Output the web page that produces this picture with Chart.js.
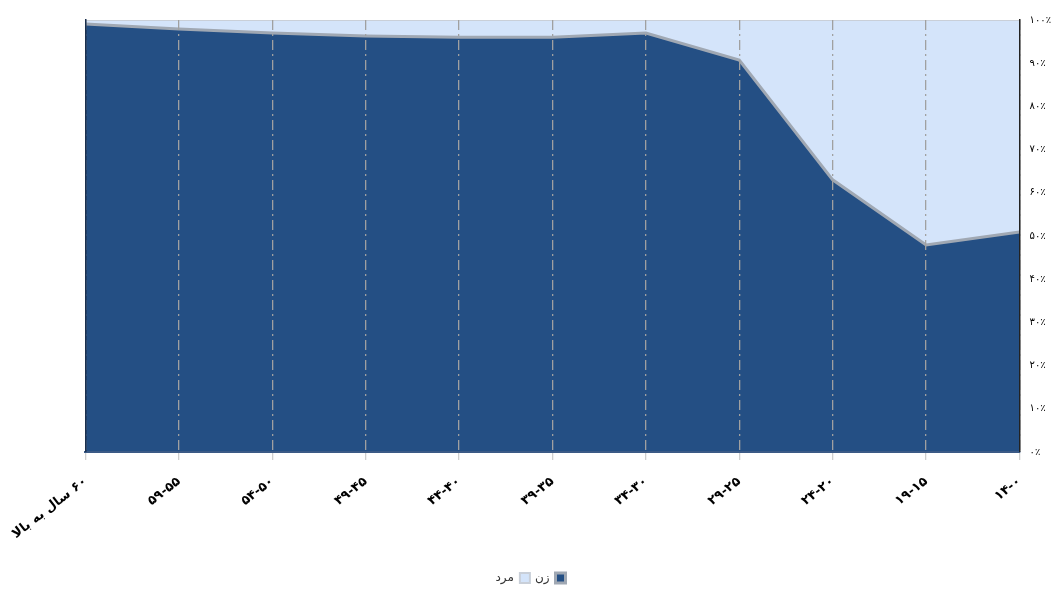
<!DOCTYPE html>
<html><head><meta charset="utf-8">
<script src="https://cdn.jsdelivr.net/npm/chart.js@4/dist/chart.umd.min.js"></script>
<style>html,body{margin:0;padding:0;background:#fff}#wrap{width:1061px;height:590px}</style>
</head><body><div id="wrap"><canvas id="c" width="1061" height="590"></canvas></div>
<script>
const categories = ["۶۰ سال به بالا","۵۹-۵۵","۵۴-۵۰","۴۹-۴۵","۴۴-۴۰","۳۹-۳۵","۳۴-۳۰","۲۹-۲۵","۲۴-۲۰","۱۹-۱۵","۱۴-۰"];
const women = [99.1, 97.9, 97.0, 96.3, 96.0, 96.0, 97.0, 90.7, 63.0, 47.9, 50.9];
const men   = [0.9, 2.1, 3.0, 3.7, 4.0, 4.0, 3.0, 9.3, 37.0, 52.1, 49.1];
const yTickLabels = ["۰٪","۱۰٪","۲۰٪","۳۰٪","۴۰٪","۵۰٪","۶۰٪","۷۰٪","۸۰٪","۹۰٪","۱۰۰٪"];
const seriesNames = ["زن","مرد"];

new Chart(document.getElementById('c'), {
  type: 'line',
  data: {
    labels: categories,
    datasets: [
      {label: seriesNames[0], data: women, fill: 'origin', backgroundColor: '#244f84', borderColor: '#a0a8b3', borderWidth: 3, pointRadius: 0, tension: 0},
      {label: seriesNames[1], data: men, fill: '-1', backgroundColor: '#d4e4fa', borderColor: '#c9cfd8', borderWidth: 2, pointRadius: 0, tension: 0}
    ]
  },
  options: {
    responsive: false, animation: false,
    layout: {padding: {top: 20, right: 0, left: 0, bottom: -4}},
    plugins: {
      legend: {position: 'bottom', rtl: true, textDirection: 'rtl',
        labels: {boxWidth: 10, boxHeight: 10, padding: 5, color: '#333', font: {family: 'DejaVu Sans', size: 12}}},
      tooltip: {enabled: false}
    },
    scales: {
      x: {
        offset: false,
        afterFit: (s) => { s.height += 11; },
        grid: {display: true, z: 1, color: '#a0a0a0', lineWidth: 1.3, tickLength: 8, tickColor: '#cfcfcf', drawOnChartArea: true},
        border: {display: true, z: 2, color: '#3b5a86', width: 2, dash: [10,4,2,4]},
        ticks: {minRotation: 38, maxRotation: 38, color: '#000', padding: 14, font: {family: 'DejaVu Sans', size: 13, weight: 'bold'}}
      },
      y: {
        position: 'right', stacked: true, min: 0, max: 100,
        grid: {display: false, drawTicks: false},
        border: {display: true, z: 2, color: '#222', width: 1.5, dash: [4,2]},
        ticks: {stepSize: 10, padding: 10, color: '#000', font: {family: 'DejaVu Sans', size: 10},
          callback: (v) => yTickLabels[Math.round(v/10)]}
      },
      yl: {
        position: 'left', min: 0, max: 100, display: true,
        grid: {display: false, drawTicks: false},
        border: {display: true, z: 2, color: '#1a2f4d', width: 1.5, dash: [4,2]},
        ticks: {display: false}
      }
    }
  }
});
</script></body></html>
